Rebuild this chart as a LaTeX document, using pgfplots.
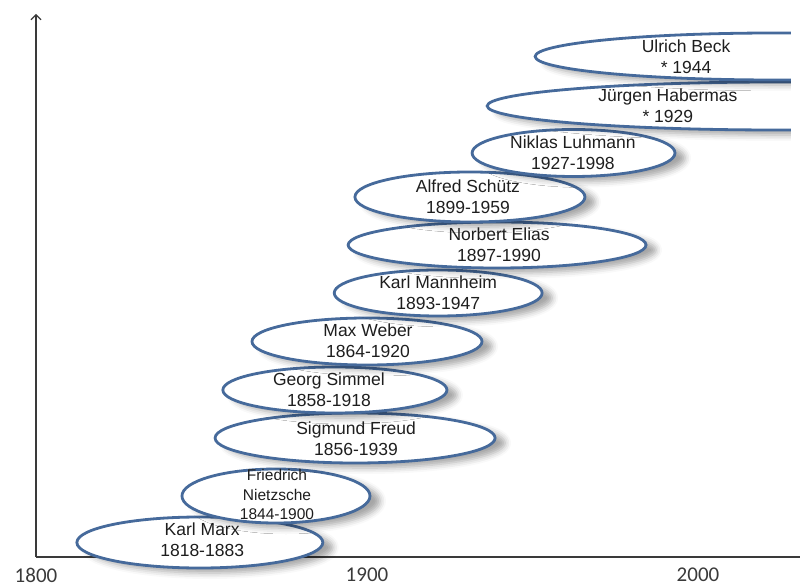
\documentclass[border=0pt]{standalone}
\usepackage{fontspec}
\setmainfont{Liberation Sans}
\newfontfamily\tickfont{Carlito}
\usepackage{pgfplots}
\pgfplotsset{compat=1.18}
\usepackage{pgfplotstable}
\usetikzlibrary{shapes.geometric,shadows.blur,arrows.meta}
\definecolor{edge}{HTML}{466A9B}
\definecolor{axisgray}{HTML}{3A3A3A}
\definecolor{txt}{HTML}{1E1E1E}

% ellipse centre (year, height), width (years), height (pt)
\pgfplotstableread[col sep=comma]{
x,y,w,h
1849.5,14.5,74.3,51
1872.5,61,56.8,54
1896.4,119,84.6,50
1890.3,167,67.7,46
1900.0,215.5,69.5,47
1921.5,264,62.8,46
1939.3,312,90.0,46
1931.1,360,69.5,50
1962.4,404,61.3,47
2023.9,451,175.2,48
2023.3,500.5,145.0,47
}\ellipsedata

\pgfplotstableread[col sep=comma]{
x,y,label
1850.2,17,{Karl Marx\\1818-1883}
1896.7,118,{Sigmund Freud\\1856-1939}
1888.5,167,{Georg Simmel\\1858-1918}
1900.3,216,{Max Weber\\1864-1920}
1921.5,264,{Karl Mannheim\\1893-1947}
1939.9,312,{Norbert Elias\\1897-1990}
1930.5,360,{Alfred Schütz\\1899-1959}
1962.2,404,{Niklas Luhmann\\1927-1998}
1990.9,451,{Jürgen Habermas\\* 1929}
1996.4,500,{Ulrich Beck\\* 1944}
}\labeldata

\begin{document}
\begin{tikzpicture}
\useasboundingbox (-36pt,-29pt) rectangle (766pt,557pt);
\begin{axis}[
  at={(0pt,0pt)}, anchor=south west,
  x=3.31pt, y=1pt,
  xmin=1800, xmax=2027.8, ymin=0, ymax=543,
  axis lines=left,
  axis line style={axisgray, line width=1.1pt},
  x axis line style={-, shorten >=-10pt},
  y axis line style={-{Straight Barb[length=5pt,width=10pt]}},
  xtick={1800,1900,2000},
  xticklabels={1800,1900,2000},
  ytick=\empty,
  major tick length=0pt,
  xticklabel style={font=\tickfont\fontsize{21}{21}\selectfont, text=axisgray, anchor=center, yshift=-18pt},
]
\addplot[only marks, mark=none,
  visualization depends on={\thisrow{w} \as \ew},
  visualization depends on={\thisrow{h} \as \eh},
  nodes near coords={},
  every node near coord/.append style={anchor=center, ellipse, draw=edge, line width=2.8pt, fill=white, inner sep=0pt,
      minimum width={\ew*3.31pt}, minimum height={\eh*1pt},
      blur shadow={shadow xshift=10pt, shadow yshift=-5pt, shadow blur radius=6pt, shadow opacity=35}},
] table[x=x, y=y] \ellipsedata;
\addplot[only marks, mark=none,
  point meta=explicit symbolic,
  nodes near coords={\pgfplotspointmeta},
  every node near coord/.append style={anchor=center, align=center, inner sep=0pt, text=txt, font=\fontsize{17.5}{21}\selectfont},
] table[x=x, y=y, meta=label] \labeldata;
\addplot[only marks, mark=none,
  point meta=explicit symbolic,
  nodes near coords={\pgfplotspointmeta},
  every node near coord/.append style={anchor=center, align=center, inner sep=0pt, text=txt, font=\fontsize{15.5}{19.5}\selectfont},
] coordinates {(1872.8,62.5) [Friedrich\\Nietzsche\\1844-1900]};
\end{axis}
\fill[white] (754.5pt,380pt) rectangle (770pt,560pt);
\end{tikzpicture}
\end{document}
